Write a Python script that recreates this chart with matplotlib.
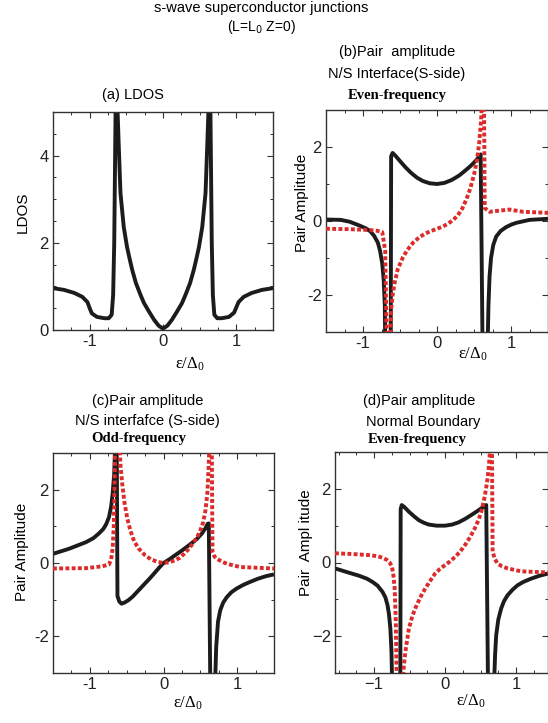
import matplotlib
matplotlib.use("Agg")
import matplotlib.pyplot as plt
from matplotlib.ticker import MultipleLocator

W, H = 548, 723

# (a) LDOS
ldos_x = [-1.50, -1.35, -1.21, -1.10, -1.03, -1.00, -0.97, -0.90, -0.80, -0.74, -0.70, -0.68, -0.665, -0.645,
          -0.625, -0.605, -0.58, -0.535, -0.49, -0.46, -0.42, -0.37, -0.31, -0.26, -0.19, -0.12, -0.06, 0.0,
          0.06, 0.12, 0.19, 0.26, 0.31, 0.37, 0.42, 0.46, 0.49, 0.535, 0.58, 0.605, 0.625,
          0.645, 0.665, 0.68, 0.70, 0.74, 0.80, 0.90, 0.97, 1.00, 1.03, 1.10, 1.21, 1.35, 1.50]
ldos_y = [0.96, 0.92, 0.85, 0.76, 0.64, 0.50, 0.38, 0.30, 0.27, 0.27, 0.35, 0.8, 2.0, 5.3,
          5.3, 4.3, 3.14, 2.36, 1.9, 1.67, 1.38, 1.08, 0.82, 0.62, 0.42, 0.23, 0.10, 0.03,
          0.10, 0.23, 0.42, 0.62, 0.82, 1.08, 1.38, 1.67, 1.9, 2.36, 3.14, 4.3, 5.3,
          5.3, 2.0, 0.8, 0.35, 0.27, 0.27, 0.30, 0.40, 0.52, 0.64, 0.76, 0.85, 0.92, 0.96]

# (b) N/S interface, even-frequency
b_black_x = [-1.50, -1.30, -1.18, -1.05, -0.96, -0.90, -0.85, -0.80, -0.77, -0.74, -0.72, -0.705, -0.70,
             -0.625, -0.62, -0.60, -0.56, -0.50, -0.43, -0.35, -0.27, -0.19, -0.10, 0.0, 0.10, 0.20,
             0.30, 0.38, 0.45, 0.52, 0.56, 0.59,
             0.615, 0.685, 0.695, 0.71, 0.73, 0.76, 0.80, 0.86, 0.93, 1.00, 1.07, 1.25, 1.50]
b_black_y = [0.04, 0.03, -0.02, -0.12, -0.20, -0.28, -0.40, -0.58, -0.8, -1.15, -1.6, -2.3, -3.3,
             -3.3, 1.75, 1.84, 1.76, 1.62, 1.46, 1.30, 1.17, 1.08, 1.02, 1.0, 1.03, 1.11,
             1.23, 1.36, 1.48, 1.62, 1.72, 1.80,
             -3.3, -3.3, -2.3, -1.5, -1.0, -0.65, -0.42, -0.27, -0.17, -0.10, -0.05, 0.03, 0.06]
b_red_x = [-1.50, -1.20, -0.95, -0.82, -0.74, -0.70, -0.68, -0.635, -0.62, -0.60, -0.57, -0.53,
           -0.46, -0.40, -0.32, -0.24, -0.16, -0.08, 0.0, 0.08, 0.15, 0.22, 0.28, 0.34, 0.40,
           0.45, 0.50, 0.54, 0.57, 0.595, 0.61,
           0.635, 0.645, 0.71, 0.89, 0.98, 1.16, 1.50]
b_red_y = [-0.21, -0.22, -0.24, -0.26, -0.30, -0.8, -3.3, -3.3, -2.4, -2.0, -1.65, -1.3,
           -0.98, -0.78, -0.58, -0.44, -0.34, -0.27, -0.21, -0.15, -0.07, 0.03, 0.15, 0.33, 0.60,
           0.88, 1.25, 1.65, 2.1, 2.7, 3.3,
           3.3, 0.35, 0.25, 0.29, 0.31, 0.25, 0.22]

# (c) N/S interface, odd-frequency
c_black_x = [-1.50, -1.28, -1.05, -0.95, -0.88, -0.82, -0.78, -0.74, -0.71, -0.69, -0.67, -0.655,
             -0.635, -0.625, -0.60, -0.57, -0.53, -0.48, -0.42, -0.35, -0.28, -0.20, -0.12, -0.06,
             0.0, 0.08, 0.15, 0.25, 0.35, 0.45, 0.52, 0.57, 0.60, 0.615,
             0.635, 0.70, 0.715, 0.74, 0.77, 0.81, 0.86, 0.92, 0.99, 1.08, 1.17, 1.28, 1.39, 1.50]
c_black_y = [0.25, 0.39, 0.57, 0.68, 0.80, 0.92, 1.05, 1.25, 1.55, 1.9, 2.4, 3.3,
             3.3, -0.9, -1.05, -1.11, -1.08, -1.02, -0.92, -0.77, -0.62, -0.45, -0.27, -0.13,
             0.0, 0.10, 0.20, 0.34, 0.49, 0.65, 0.80, 0.95, 1.07, 1.08,
             -3.3, -3.3, -2.3, -1.6, -1.29, -1.08, -0.93, -0.80, -0.70, -0.60, -0.52, -0.43, -0.36, -0.31]
c_red_x = [-1.50, -1.05, -0.83, -0.74, -0.71, -0.69, -0.675, -0.665, -0.655, -0.60, -0.585,
           -0.56, -0.53, -0.49, -0.45, -0.40, -0.34, -0.25, -0.17, -0.08, 0.0, 0.08, 0.15, 0.22,
           0.28, 0.35, 0.41, 0.46, 0.50, 0.54, 0.57, 0.595, 0.61, 0.625,
           0.655, 0.665, 0.69, 0.72, 0.80, 0.86, 1.04, 1.50]
c_red_y = [-0.15, -0.14, -0.09, -0.04, 0.10, 0.4, 1.0, 2.0, 3.3, 3.3, 2.7,
           2.16, 1.65, 1.2, 0.89, 0.60, 0.40, 0.21, 0.10, 0.03, 0.0, 0.02, 0.07, 0.14,
           0.25, 0.40, 0.57, 0.72, 0.89, 1.12, 1.44, 1.9, 2.5, 3.3,
           3.3, 0.3, 0.18, 0.12, 0.03, -0.02, -0.11, -0.15]

# (d) normal boundary, even-frequency
d_black_x = [-1.55, -1.40, -1.21, -1.10, -1.02, -0.95, -0.88, -0.84, -0.81, -0.79, -0.77, -0.755,
             -0.745, -0.63, -0.625, -0.61, -0.57, -0.51, -0.44, -0.37, -0.30, -0.23, -0.12, 0.0,
             0.10, 0.19, 0.28, 0.37, 0.45, 0.51, 0.55, 0.58,
             0.605, 0.69, 0.705, 0.72, 0.75, 0.79, 0.83, 0.88, 0.95, 1.02, 1.10, 1.21, 1.33, 1.45]
d_black_y = [-0.16, -0.25, -0.36, -0.44, -0.53, -0.63, -0.80, -0.95, -1.16, -1.4, -1.8, -2.4,
             -3.3, -3.3, 1.45, 1.56, 1.50, 1.38, 1.26, 1.15, 1.08, 1.03, 1.0, 1.0,
             1.03, 1.09, 1.18, 1.29, 1.39, 1.47, 1.52, 1.56,
             -3.3, -3.3, -2.5, -1.98, -1.55, -1.25, -1.05, -0.89, -0.74, -0.62, -0.53, -0.44, -0.36, -0.30]
d_red_x = [-1.55, -1.30, -1.07, -0.95, -0.88, -0.82, -0.78, -0.75, -0.73, -0.71, -0.695, -0.68,
           -0.60, -0.58, -0.56, -0.51, -0.46, -0.42, -0.35, -0.28, -0.21, -0.14, -0.07, 0.0,
           0.07, 0.14, 0.21, 0.28, 0.35, 0.42, 0.47, 0.51, 0.56, 0.60, 0.625, 0.64,
           0.66, 0.67, 0.70, 0.74, 0.80, 0.88, 1.07, 1.45]
d_red_y = [0.25, 0.23, 0.20, 0.17, 0.13, 0.07, 0.0, -0.10, -0.3, -0.7, -1.5, -3.3,
           -3.3, -2.8, -2.44, -1.8, -1.45, -1.25, -0.95, -0.71, -0.50, -0.30, -0.17, -0.07,
           0.03, 0.15, 0.29, 0.47, 0.68, 0.93, 1.15, 1.38, 1.8, 2.29, 2.8, 3.3,
           3.3, 0.3, 0.10, -0.03, -0.10, -0.16, -0.24, -0.27]

SANS = "Liberation Sans"
SERIF = "Liberation Serif"
RED = "#dd2a2a"


def box(left, top, right, bottom):
    return [left / W, 1 - bottom / H, (right - left) / W, (bottom - top) / H]


def put(fig, x, y, s, **kw):
    fig.text(x / W, 1 - y / H, s, ha="center", va="center", **kw)


def style_axes(ax, xlim, ylim, ymajor, yminor, xlabels, ylabels):
    ax.set_xlim(*xlim)
    ax.set_ylim(*ylim)
    ax.set_xticks([-1, 0, 1], labels=xlabels)
    ax.set_yticks(ymajor, labels=ylabels)
    ax.xaxis.set_minor_locator(MultipleLocator(0.25))
    ax.yaxis.set_minor_locator(MultipleLocator(yminor))
    ax.tick_params(which="both", direction="in", top=True, right=True, colors="#333333",
                   labelcolor="#222222", labelsize=12, pad=3)
    ax.tick_params(which="major", length=4, width=0.8)
    ax.tick_params(which="minor", length=2, width=0.7)
    for lab in ax.get_xticklabels() + ax.get_yticklabels():
        lab.set_fontfamily(SANS)
    for sp in ax.spines.values():
        sp.set_color("#333333")
        sp.set_linewidth(1.0)


def draw_pair(ax, bx, by, rx, ry):
    ax.plot(bx, by, color="#1c1c1c", lw=2.8, solid_capstyle="butt", solid_joinstyle="round", zorder=2)
    ax.plot(rx, ry, color=RED, lw=2.8, linestyle=(0, (1, 0.6)), zorder=3)


fig = plt.figure(figsize=(W / 100, H / 100), dpi=100)

ax_a = fig.add_axes(box(53, 112, 273, 330))
ax_a.plot(ldos_x, ldos_y, color="#1c1c1c", lw=2.8, solid_joinstyle="round")
style_axes(ax_a, (-1.5, 1.5), (0, 5), [0, 2, 4], 0.5, ["-1", "0", "1"], ["0", "2", "4"])

ax_b = fig.add_axes(box(326, 110, 548, 332))
draw_pair(ax_b, b_black_x, b_black_y, b_red_x, b_red_y)
style_axes(ax_b, (-1.5, 1.5), (-3, 3), [-2, 0, 2], 1, ["-1", "0", "1"], ["-2", "0", "2"])

ax_c = fig.add_axes(box(53, 453, 274, 673))
draw_pair(ax_c, c_black_x, c_black_y, c_red_x, c_red_y)
style_axes(ax_c, (-1.5, 1.5), (-3, 3), [-2, 0, 2], 1, ["-1", "0", "1"], ["-2", "0", "2"])

ax_d = fig.add_axes(box(335, 452, 548, 673))
draw_pair(ax_d, d_black_x, d_black_y, d_red_x, d_red_y)
style_axes(ax_d, (-1.55, 1.45), (-3, 3), [-2, 0, 2], 1, ["\u22121", "0", "1"], ["\u22122", "0", "2"])

# headings
put(fig, 261, 8, "s-wave superconductor junctions", fontsize=10.5, family=SANS)
put(fig, 261, 27, "(L=L$_0$ Z=0)", fontsize=10, family=SANS)

put(fig, 133, 95, "(a) LDOS", fontsize=10.5, family=SANS)

put(fig, 397, 52, "(b)Pair  amplitude", fontsize=10.5, family=SANS)
put(fig, 397, 74, "N/S Interface(S-side)", fontsize=10.5, family=SANS)
put(fig, 397, 96, "Even-frequency", fontsize=10.5, family=SERIF, weight="bold")

put(fig, 148, 401, "(c)Pair amplitude", fontsize=10.5, family=SANS)
put(fig, 147, 421, "N/S interfafce (S-side)", fontsize=10.5, family=SANS)
put(fig, 139, 439, "Odd-frequency", fontsize=10.5, family=SERIF, weight="bold")

put(fig, 419, 401, "(d)Pair amplitude", fontsize=10.5, family=SANS)
put(fig, 423, 422, "Normal Boundary", fontsize=10.5, family=SANS)
put(fig, 417, 440, "Even-frequency", fontsize=10.5, family=SERIF, weight="bold")

# axis labels
put(fig, 23, 212, "LDOS", fontsize=11, family=SANS, rotation=90)
put(fig, 302, 203, "Pair Amplitude", fontsize=11, family=SANS, rotation=90)
put(fig, 22, 552, "Pair Amplitude", fontsize=11, family=SANS, rotation=90)
put(fig, 306, 543, "Pair  Ampl itude", fontsize=11, family=SANS, rotation=90)

eps = r"$\mathregular{\varepsilon/\Delta_0}$"
put(fig, 190, 364, eps, fontsize=12, family=SERIF)
put(fig, 473, 354, eps, fontsize=12, family=SERIF)
put(fig, 188, 703, eps, fontsize=12, family=SERIF)
put(fig, 471, 701, eps, fontsize=12, family=SERIF)

fig.savefig("out.png", dpi=100)
